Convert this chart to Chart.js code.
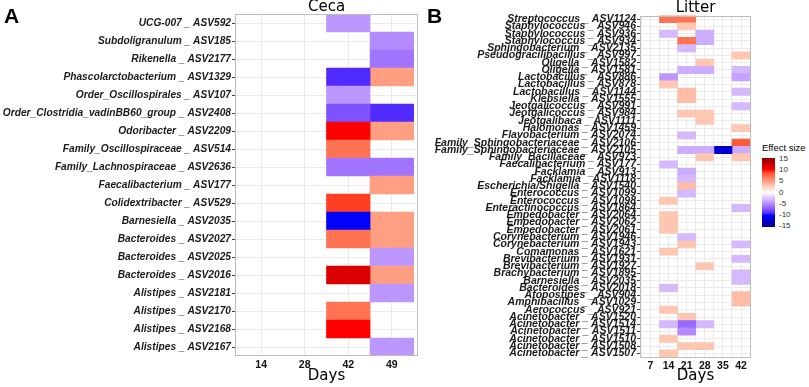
<!DOCTYPE html>
<html><head><meta charset="utf-8">
<script src="https://cdn.jsdelivr.net/npm/chart.js@4.4.1/dist/chart.umd.min.js"></script>
<style>
html,body{margin:0;padding:0;background:#fff}
body{width:809px;height:387px;overflow:hidden;position:relative;font-family:"Liberation Sans",Arial,sans-serif}
canvas{position:absolute;top:0}
#ca{left:0}
#cb{left:420px}
.tag{position:absolute;font:bold 21px/1 "Liberation Sans",Arial,sans-serif;color:#000}
#legTitle{position:absolute;left:762px;top:143px;font:9.5px/1 "Liberation Sans",Arial,sans-serif;color:#000;white-space:nowrap}
#legBar{position:absolute;left:762px;top:158px;width:13px;height:69px}
.legLab{position:absolute;left:779px;font:8px/1 "Liberation Sans",Arial,sans-serif;color:#333;transform:translateY(-50%)}
</style></head><body>
<canvas id="ca" width="420" height="387"></canvas>
<canvas id="cb" width="340" height="387"></canvas>
<div class="tag" style="left:4px;top:5px">A</div>
<div class="tag" style="left:427px;top:5px">B</div>
<div id="legTitle">Effect size</div>
<div id="legBar"></div>
<script>
const _ = null;

// ---------- Panel A: Ceca ----------
const cecaTaxa = [
  "UCG-007 _ ASV592","Subdoligranulum _ ASV185","Rikenella _ ASV2177",
  "Phascolarctobacterium _ ASV1329","Order_Oscillospirales _ ASV107",
  "Order_Clostridia_vadinBB60_group _ ASV2408","Odoribacter _ ASV2209",
  "Family_Oscillospiraceae _ ASV514","Family_Lachnospiraceae _ ASV2636",
  "Faecalibacterium _ ASV177","Colidextribacter _ ASV529","Barnesiella _ ASV2035",
  "Bacteroides _ ASV2027","Bacteroides _ ASV2025","Bacteroides _ ASV2016",
  "Alistipes _ ASV2181","Alistipes _ ASV2170","Alistipes _ ASV2168","Alistipes _ ASV2167"
];
const cecaDays = ["14","28","42","49"];
const cecaDay14 = [_,_,_,_,_,_,_,_,_,_,_,_,_,_,_,_,_,_,_];
const cecaDay28 = [_,_,_,_,_,_,_,_,_,_,_,_,_,_,_,_,_,_,_];
const cecaDay42 = [-4.5,_,_,-9,-4.5,-7.5,10,7,-6,_,9,-10,7,_,11.5,_,7,10,_];
const cecaDay49 = [_,-5,-6,5,_,-9,5,_,-6,5,_,5,5,-4.5,5,-4.5,_,_,-4.5];

// ---------- Panel B: Litter ----------
const litterTaxa = [
  "Streptococcus _ ASV1124","Staphylococcus _ ASV946","Staphylococcus _ ASV936",
  "Staphylococcus _ ASV934","Sphingobacterium _ ASV2135","Pseudogracilibacillus _ ASV997",
  "Oligella _ ASV1582","Oligella _ ASV1581","Lactobacillus _ ASV886","Lactobacillus _ ASV878",
  "Lactobacillus _ ASV1144","Klebsiella _ ASV1555","Jeotgalicoccus _ ASV991",
  "Jeotgalicoccus _ ASV984","Jeotgalibaca _ ASV1111","Halomonas _ ASV1459",
  "Flavobacterium _ ASV2074","Family_Sphingobacteriaceae _ ASV2106",
  "Family_Sphingobacteriaceae _ ASV2105","Family_Bacillaceae _ ASV973",
  "Faecalibacterium _ ASV177","Facklamia _ ASV913","Facklamia _ ASV1118",
  "Escherichia/Shigella _ ASV1540","Enterococcus _ ASV1099","Enterococcus _ ASV1098",
  "Enteractinococcus _ ASV1864","Empedobacter _ ASV2064","Empedobacter _ ASV2062",
  "Empedobacter _ ASV2061","Corynebacterium _ ASV1946","Corynebacterium _ ASV1943",
  "Comamonas _ ASV1621","Brevibacterium _ ASV1931","Brevibacterium _ ASV1927",
  "Brachybacterium _ ASV1895","Barnesiella _ ASV2035","Bacteroides _ ASV2018",
  "Atopostipes _ ASV904","Amphibacillus _ ASV1029","Aerococcus _ ASV921",
  "Acinetobacter _ ASV1520","Acinetobacter _ ASV1514","Acinetobacter _ ASV1511",
  "Acinetobacter _ ASV1510","Acinetobacter _ ASV1508","Acinetobacter _ ASV1507"
];
const litterDays = [7,14,21,28,35,42];
const litterDay7 = [
  _,_,_,_,_,_,_,_,_,_, _,_,_,_,_,_,_,_,_,_, _,_,_,_,_,_,_,_,_,_, _,_,_,_,_,_,_,_,_,_, _,_,_,_,_,_,_];
const litterDay14 = [
  7,_,-3,_,_,_,_,_,-4.5,3,
  _,_,_,_,_,_,_,_,_,_,
  -3,_,_,_,_,3,_,3,3,3,
  _,_,3,_,_,_,_,-3,_,_,
  3,_,-3,_,3,_,3];
const litterDay21 = [
  7,3,_,7,-3,_,_,-3.5,_,_,
  3.5,3.5,_,3,_,_,-3,_,-3.5,_,
  _,-3.5,-3,3.5,-3,_,_,_,_,_,
  -3,3,_,_,_,_,_,_,_,_,
  _,3,-6.5,-5,_,3,_];
const litterDay28 = [
  _,_,-3.5,-3.5,_,_,3,-3.5,_,_,
  _,_,_,3,3,_,_,_,-3.5,3,
  _,_,_,_,_,_,_,_,_,_,
  _,_,_,_,3,_,_,_,_,_,
  _,_,-3,_,_,3,_];
const litterDay35 = [
  _,_,_,_,_,_,_,_,_,_,
  _,_,_,_,_,_,_,_,-12,_,
  _,_,_,_,_,_,_,_,_,_,
  _,_,_,_,_,_,_,_,_,_,
  _,_,_,_,_,_,_];
const litterDay42 = [
  _,_,_,_,_,3,_,-3,-4,_,
  -3,_,-3,_,_,3,_,8,-3.5,3,
  _,_,_,_,_,_,-3,_,_,_,
  _,-3,_,-3,_,-3,-3,_,3.5,3.5,
  _,_,_,_,_,_,_];

// ---------- Colour scale (Lab interpolation, like ggplot gradientn) ----------
const scaleValues = [-15,-10,0,10,15];
const scaleColours = ["#00008B","#0000FF","#FFFFFF","#FF0000","#8B0000"];
const legendTicks = [15,10,5,0,-5,-10,-15];

function hexRgb(h){h=h.replace('#','');return [0,2,4].map(i=>parseInt(h.substr(i,2),16));}
function toLin(c){c/=255;return c<=0.04045?c/12.92:Math.pow((c+0.055)/1.055,2.4);}
function fromLin(c){c=c<=0.0031308?12.92*c:1.055*Math.pow(c,1/2.4)-0.055;return Math.round(Math.max(0,Math.min(1,c))*255);}
function rgbLab(rgb){
  const [R,G,B]=rgb.map(toLin);
  const X=(0.4124564*R+0.3575761*G+0.1804375*B)/0.95047;
  const Y=(0.2126729*R+0.7151522*G+0.0721750*B);
  const Z=(0.0193339*R+0.1191920*G+0.9503041*B)/1.08883;
  const f=t=>t>0.008856?Math.cbrt(t):7.787*t+16/116;
  const fx=f(X),fy=f(Y),fz=f(Z);
  return [116*fy-16,500*(fx-fy),200*(fy-fz)];
}
function labRgb([L,a,b]){
  const fy=(L+16)/116,fx=fy+a/500,fz=fy-b/200;
  const fi=t=>t*t*t>0.008856?t*t*t:(t-16/116)/7.787;
  const X=fi(fx)*0.95047,Y=fi(fy),Z=fi(fz)*1.08883;
  const R=3.2404542*X-1.5371385*Y-0.4985314*Z;
  const G=-0.9692660*X+1.8760108*Y+0.0415560*Z;
  const B=0.0556434*X-0.2040259*Y+1.0572252*Z;
  return [fromLin(R),fromLin(G),fromLin(B)];
}
const labStops = scaleColours.map(c=>rgbLab(hexRgb(c)));
function effectColor(v){
  v=Math.max(scaleValues[0],Math.min(scaleValues[scaleValues.length-1],v));
  let i=0; while(i<scaleValues.length-2 && v>scaleValues[i+1]) i++;
  const t=(v-scaleValues[i])/(scaleValues[i+1]-scaleValues[i]);
  const A=labStops[i],B=labStops[i+1];
  const rgb=labRgb([0,1,2].map(k=>A[k]+(B[k]-A[k])*t));
  return `rgb(${rgb[0]},${rgb[1]},${rgb[2]})`;
}

// ---------- legend ----------
(function(){
  const stops=[];
  for(let k=0;k<=30;k++){const v=15-k;stops.push(effectColor(v)+' '+(k/30*100).toFixed(2)+'%');}
  document.getElementById('legBar').style.background='linear-gradient(to bottom,'+stops.join(',')+')';
  const lo=legendTicks[legendTicks.length-1],hi=legendTicks[0];
  legendTicks.forEach(v=>{
    const d=document.createElement('div');d.className='legLab';d.textContent=String(v);
    d.style.top=(159+(hi-v)/(hi-lo)*67)+'px';document.body.appendChild(d);
  });
})();

// ---------- chart helpers ----------
const frame={id:'frame',afterDatasetsDraw(chart){
  const {ctx,chartArea:a}=chart;ctx.save();ctx.strokeStyle='#BDBDBD';ctx.lineWidth=1;
  ctx.strokeRect(Math.round(a.left)+0.5,Math.round(a.top)+0.5,Math.round(a.right-a.left)-1,Math.round(a.bottom-a.top)-1);
  ctx.restore();}};

function makeDatasets(columns,positions,half){
  return columns.map((vals,j)=>({
    data: vals.map(v=>v==null?null:[positions[j]-half,positions[j]+half]),
    backgroundColor: vals.map(v=>v==null?'rgba(0,0,0,0)':effectColor(v)),
    borderWidth:0, borderSkipped:false, grouped:false,
    barPercentage:1, categoryPercentage:1
  }));
}

function makeChart(id,cfg){
  return new Chart(document.getElementById(id),{
    type:'bar',
    data:{labels:cfg.labels,datasets:cfg.datasets},
    options:{
      indexAxis:'y',responsive:false,animation:false,devicePixelRatio:1,
      layout:{padding:{left:0,right:cfg.padRight,top:0,bottom:0}},
      plugins:{
        legend:{display:false},tooltip:{enabled:false},
        title:{display:true,text:cfg.title,fullSize:false,color:'#000',
          font:{family:'"DejaVu Sans"',size:15,weight:'normal',lineHeight:cfg.titleLH},padding:0}
      },
      scales:{
        x:{type:'linear',min:cfg.xmin,max:cfg.xmax,
          afterBuildTicks:s=>{s.ticks=cfg.xticks.map(v=>({value:v}));},
          afterFit:s=>{s.height=cfg.xh;},
          border:{display:false},
          grid:{color:'#EBEBEB',lineWidth:1,drawTicks:false},
          ticks:{autoSkip:false,maxRotation:0,padding:cfg.xpad,color:'#111',
            font:{family:'"Liberation Sans"',size:10.5,weight:'bold'},
            callback:cfg.xlabel},
          title:{display:true,text:'Days',color:'#000',
            font:{family:'"DejaVu Sans"',size:15},padding:{top:0,bottom:2}}
        },
        y:{type:'category',
          afterFit:s=>{s.width=cfg.yw;},
          border:{display:false},
          grid:{color:'#EBEBEB',lineWidth:1,offset:false,drawTicks:true,tickLength:3,tickColor:'#444'},
          ticks:{autoSkip:false,padding:1,color:'#1A1A1A',
            font:{family:'"Liberation Sans"',size:cfg.yfont,weight:'bold',style:'italic'}}
        }
      }
    },
    plugins:[frame]
  });
}

makeChart('ca',{
  labels:cecaTaxa,
  datasets:makeDatasets([cecaDay14,cecaDay28,cecaDay42,cecaDay49],cecaDays.map((d,i)=>i),0.5),
  title:'Ceca',titleLH:14/15,padRight:2,
  xmin:-0.6,xmax:3.6,xticks:cecaDays.map((d,i)=>i),
  xlabel:v=>cecaDays[Math.round(v)]??'',
  xh:31,xpad:3,yw:235,yfont:10.2
});

makeChart('cb',{
  labels:litterTaxa,
  datasets:makeDatasets([litterDay7,litterDay14,litterDay21,litterDay28,litterDay35,litterDay42],litterDays,3.5),
  title:'Litter',titleLH:15.5/15,padRight:9,
  xmin:2.95,xmax:45.85,
  xticks:litterDays.flatMap(d=>[d-3.5,d]).concat([litterDays[litterDays.length-1]+3.5]),
  xlabel:v=>litterDays.includes(v)?String(v):'',
  xh:30,xpad:3,yw:220,yfont:10.5
});
</script>
</body></html>
